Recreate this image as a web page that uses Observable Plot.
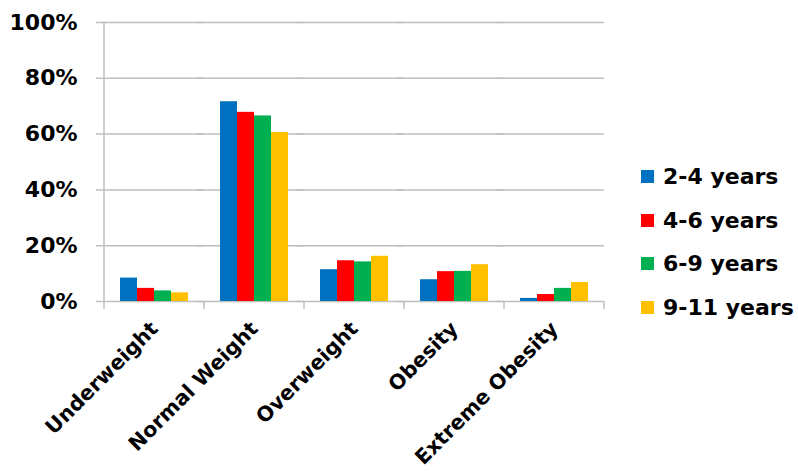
<!DOCTYPE html>
<html><head><meta charset="utf-8">
<script src="https://cdn.jsdelivr.net/npm/d3@7"></script>
<script src="https://cdn.jsdelivr.net/npm/@observablehq/plot@0.6"></script>
<style>
body{margin:0;background:#fff;}
#wrap{position:relative;width:798px;height:471px;}
#legend{position:absolute;left:641px;top:155px;font:bold 22px "DejaVu Sans";color:#000;}
.item{display:flex;align-items:center;height:43.6px;}
.sw{width:13px;height:13px;margin-right:9px;}
</style></head><body><div id="wrap"><div id="legend"></div></div>
<script>
const categories = ["Underweight", "Normal Weight", "Overweight", "Obesity", "Extreme Obesity"];
const series = ["2-4 years", "4-6 years", "6-9 years", "9-11 years"];
const colors = ["#0070C0", "#FF0000", "#00B050", "#FFC000"];
const age2to4 = [8.4, 71.6, 11.4, 7.8, 1.1];
const age4to6 = [4.7, 67.8, 14.6, 10.7, 2.5];
const age6to9 = [3.8, 66.5, 14.2, 10.8, 4.7];
const age9to11 = [3.1, 60.6, 16.2, 13.2, 6.8];
const yTicks = [0, 20, 40, 60, 80, 100];

const seriesValues = [age2to4, age4to6, age6to9, age9to11];
const data = categories.flatMap((c, i) => series.map((s, j) => ({category: c, series: s, value: seriesValues[j][i]})));

const chart = Plot.plot({
  width: 798, height: 471,
  marginLeft: 103, marginRight: 193, marginTop: 22, marginBottom: 170,
  style: {fontFamily: "DejaVu Sans", fontWeight: "bold", fontSize: "22px", color: "#000", background: "#fff"},
  fx: {domain: categories, padding: 0, label: null, tickRotate: -45, tickSize: 0, tickPadding: 24},
  x: {domain: series, paddingInner: 0, paddingOuter: 0.79, axis: null},
  y: {domain: [0, 100], ticks: yTicks, tickFormat: d => d + "%", tickSize: 0, tickPadding: 27, label: null},
  color: {domain: series, range: colors},
  marks: [
    Plot.ruleY(yTicks, {stroke: "#bfbfbf", strokeWidth: 1.5, insetLeft: -8}),
    Plot.barY(data, {fx: "category", x: "series", y: "value", fill: "series"})
  ]
});
document.getElementById("wrap").prepend(chart);
d3.select(chart).selectAll('g[aria-label^="fx-axis"] text').style("font-size", "20.5px");

// axis line and category boundary ticks, positioned from the scales
const fx = chart.scale("fx"), y = chart.scale("y");
const y0 = y.apply(0), y1 = y.apply(100);
const bounds = categories.map(c => fx.apply(c)).concat([fx.apply(categories[categories.length - 1]) + fx.bandwidth]);
const g = d3.select(chart).append("g").attr("stroke", "#bfbfbf").attr("stroke-width", 1.5);
g.append("line").attr("x1", bounds[0]).attr("x2", bounds[0]).attr("y1", y1).attr("y2", y0 + 8);
bounds.slice(1).forEach(b => g.append("line").attr("x1", b).attr("x2", b).attr("y1", y0).attr("y2", y0 + 8));

const legend = d3.select("#legend");
series.forEach((s, i) => {
  const it = legend.append("div").attr("class", "item");
  it.append("div").attr("class", "sw").style("background", colors[i]);
  it.append("span").text(s);
});
</script></body></html>
